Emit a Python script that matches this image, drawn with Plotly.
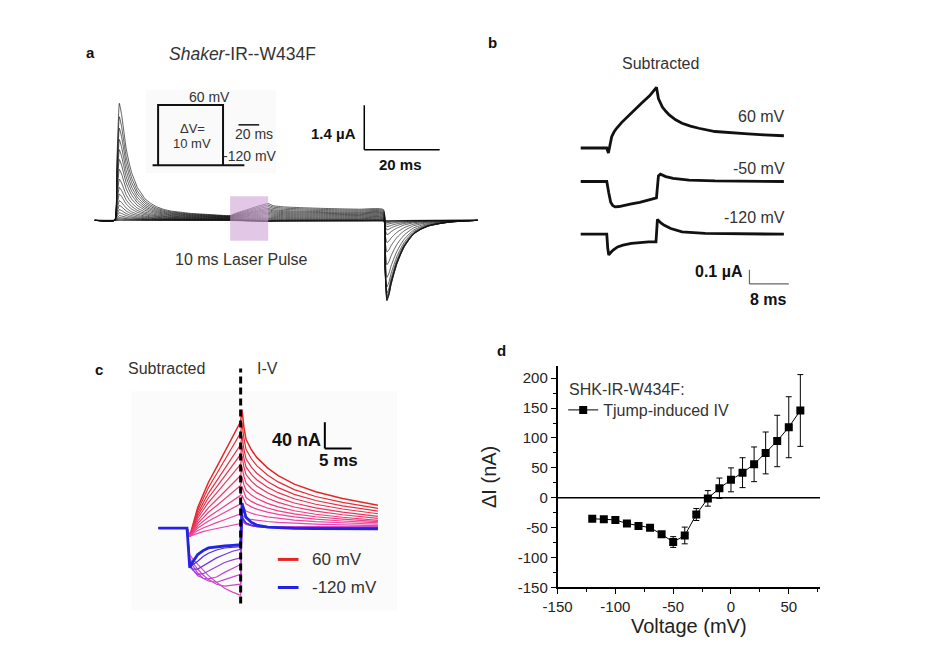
import plotly.graph_objects as go

W, H = 934, 650
FONT = "Liberation Sans, Arial, sans-serif"

# ======================= DATA =======================
# ---- panel d : T-jump induced I-V ----
voltage_mv = [-120, -110, -100, -90, -80, -70, -60, -50, -40, -30,
              -20, -10, 0, 10, 20, 30, 40, 50, 60]
delta_i_na = [-35, -36, -37, -43, -47, -50, -61, -74, -63, -28,
              -1, 16, 30, 42, 56, 75, 95, 118, 146]
delta_i_err = [3, 3, 3, 3, 3, 3, 4, 9, 14, 10,
               13, 17, 20, 25, 29, 35, 43, 51, 60]
d_xticks = [-150, -100, -50, 0, 50]
d_xticklabels = ["-150", "-100", "-50", "0", "50"]
d_yticks = [-150, -100, -50, 0, 50, 100, 150, 200]
d_yticklabels = ["-150", "-100", "-50", "0", "50", "100", "150", "200"]

# ---- panel a : raw current family (uA), -120 ... 60 mV ----
a_peak = [0.0, 0.02, 0.05, 0.09, 0.15, 0.24, 0.34, 0.47, 0.62, 0.83,
          1.04, 1.30, 1.61, 1.92, 2.23, 2.55, 2.91, 3.27, 3.69]
a_plateau = [0.0, 0.0, 0.01, 0.01, 0.02, 0.02, 0.03, 0.04, 0.05, 0.06,
             0.07, 0.08, 0.09, 0.10, 0.11, 0.12, 0.13, 0.14, 0.15]
a_laser_rise = [-0.03, -0.03, -0.04, -0.04, -0.03, -0.02, 0.0, 0.02, 0.05, 0.08,
                0.11, 0.14, 0.17, 0.20, 0.23, 0.26, 0.30, 0.34, 0.38]
a_tail = [0.01, 0.02, 0.04, 0.07, 0.12, 0.20, 0.30, 0.45, 0.70, 1.00,
          1.40, 1.80, 2.10, 2.30, 2.40, 2.45, 2.50, 2.52, 2.54]
a_decay_t = [1.8, 2.4, 3, 3.8, 4.5, 5.3, 6, 7, 8, 9.5, 11, 13, 15, 17.5, 20, 25, 30.6]
a_decay_frac = [0.9, 0.75, 0.6, 0.47, 0.38, 0.31, 0.25, 0.2, 0.15, 0.11, 0.08, 0.055,
                0.04, 0.03, 0.02, 0.01, 0.0]
a_laser_t = [32, 34, 36, 38, 40.7, 42, 45, 50, 55, 60, 65, 71.3]
a_laser_frac = [0.18, 0.38, 0.58, 0.78, 1.0, 0.82, 0.72, 0.65, 0.6, 0.56, 0.53, 0.5]
a_tail_t = [0.4, 0.9, 1.5, 2, 2.8, 3.5, 4.5, 5.5, 6.8, 8, 10, 12, 15, 18, 25]
a_tail_frac = [-0.6, -1, -0.92, -0.8, -0.66, -0.55, -0.43, -0.33, -0.24, -0.17,
               -0.11, -0.07, -0.04, -0.02, 0]

# ---- panel b : subtracted traces (uA) ----
b_t_60 = [-5.3, 0, 0.33, 0.7, 1.0, 1.5, 2.0, 3, 4, 5.3, 7, 8.7, 10.1,
          10.5, 11.3, 12, 12.7, 14, 15.3, 17, 18.7, 22, 25, 28.7, 32, 36]
b_i_60 = [0, 0, -0.035, 0.03, 0.08, 0.115, 0.14, 0.18, 0.215, 0.26, 0.315, 0.37, 0.43,
          0.35, 0.29, 0.26, 0.234, 0.2, 0.175, 0.155, 0.14, 0.117, 0.107, 0.10, 0.093, 0.087]
b_t_m50 = [-5.3, 0, 0.4, 0.8, 1.2, 1.7, 2.5, 3.3, 5, 6.7, 8.5, 10.1,
           10.5, 10.9, 12, 13.5, 16.7, 22, 36]
b_i_m50 = [0, 0, -0.08, -0.147, -0.17, -0.18, -0.177, -0.17, -0.158, -0.147, -0.13, -0.116,
           0.04, 0.052, 0.035, 0.022, 0.01, 0.004, 0]
b_t_m120 = [-5.3, 0, 0.2, 0.4, 0.8, 1.3, 2.2, 3.3, 5, 6.7, 8.5, 10,
            10.3, 11, 11.7, 13, 15.3, 20, 36]
b_i_m120 = [0, 0, -0.1, -0.147, -0.13, -0.112, -0.09, -0.077, -0.065, -0.058, -0.055, -0.054,
            0.105, 0.08, 0.063, 0.04, 0.016, 0.005, 0]
b_offsets = [0.61, 0.373, 0.0]

# ---- panel c : subtracted family (nA) ----
c_ramp_t = [0, 0.5, 1, 2, 3, 4, 5.5, 7, 8.5, 10]
c_pos_end = [162, 145, 127, 112, 97, 80, 65, 50, 37, 22, 7]       # 60 ... -40 mV
c_pos_peak = [180, 160, 141, 125, 110, 93, 78, 63, 50, 35, 20]
c_pos_tail = [35, 30, 26, 22, 18, 15, 12, 10, 8, 6, 4]
c_pos_dip = -12
c_pos_ramp_frac = [0, 0.08, 0.25, 0.36, 0.47, 0.6, 0.73, 0.87, 1.0]
c_neg_ramp = [                                                     # -50 ... -120 mV
    [0, -40, -46, -55, -63, -72, -82, -91, -97, -102],
    [0, -45, -52, -62, -71, -78, -85, -88, -87, -85],
    [0, -48, -56, -68, -76, -80, -82, -78, -74, -70],
    [0, -52, -62, -72, -76, -77, -74, -67, -61, -55],
    [0, -55, -63, -70, -69, -65, -59, -52, -48, -45],
    [0, -57, -62, -62, -57, -52, -45, -40, -35, -32],
    [0, -58, -56, -50, -43, -38, -33, -30, -29, -28],
    [0, -60, -52, -40, -34, -30, -28, -27, -26, -25],
]
c_neg_peak = [10, 12, 14, 15, 16, 17, 18, 38]
c_neg_tail = [2, 2, 1, 1, 0, 0, 0, -1]
c_decay_t = [10.25, 10.6, 11, 12, 13, 15, 17, 20, 24, 29, 35.6]
c_pos_decay_frac = [1, 0.82, 0.69, 0.58, 0.5, 0.39, 0.31, 0.22, 0.14, 0.07, 0]
c_neg_decay_frac = [1, 0.7, 0.45, 0.25, 0.15, 0.07, 0.04, 0.02, 0.01, 0.0, 0]


# ======================= HELPERS =======================
def pxx(x):
    return x / W


def pxy(y):
    return 1 - y / H


def axes_for(box, x0px, xs, y0px, ys):
    """box = (left, top, right, bottom) in pixels; origin pixel + pixels per unit."""
    l, t, r, b = box
    return dict(domain=[l / W, r / W], range=[(l - x0px) / xs, (r - x0px) / xs]), \
        dict(domain=[1 - b / H, 1 - t / H], range=[(y0px - b) / ys, (y0px - t) / ys])


def lerp_color(k, n):
    stops = [(0.0, (228, 40, 40)), (0.5, (238, 70, 165)),
             (0.78, (190, 70, 222)), (1.0, (35, 35, 225))]
    f = k / (n - 1)
    for (f0, c0), (f1, c1) in zip(stops[:-1], stops[1:]):
        if f0 <= f <= f1:
            u = (f - f0) / (f1 - f0)
            c = [round(a + (b - a) * u) for a, b in zip(c0, c1)]
            return "rgb(%d,%d,%d)" % tuple(c)
    return "rgb(35,35,225)"


fig = go.Figure()
hidden = dict(visible=False, fixedrange=True, showgrid=False, zeroline=False)

# ======================= PANEL A =======================
xa, ya = axes_for((60, 40, 470, 320), 93.3, 3.83, 215, 32.1)
for A, L, R, B in zip(a_peak, a_plateau, a_laser_rise, a_tail):
    t = [-5.3, 0, 0.5, 1.2] + a_decay_t + a_laser_t + [71.3 + d for d in a_tail_t] + [96.3]
    y = [0, 0, 0.45 * A, A] + [L + (A - L) * f for f in a_decay_frac] \
        + [L + R * f for f in a_laser_frac] + [B * f for f in a_tail_frac] + [0]
    fig.add_trace(go.Scatter(x=t, y=y, mode="lines", xaxis="x2", yaxis="y2",
                             line=dict(color="rgba(20,20,20,0.85)", width=0.8, shape="spline",
                                       smoothing=0.4),
                             showlegend=False, hoverinfo="skip"))

# ======================= PANEL B =======================
xb, yb = axes_for((470, 20, 800, 310), 593.3, 5.0, 229, 143)
for tt, ii, off in zip([b_t_60, b_t_m50, b_t_m120], [b_i_60, b_i_m50, b_i_m120], b_offsets):
    fig.add_trace(go.Scatter(x=tt, y=[v + off for v in ii], mode="lines",
                             xaxis="x3", yaxis="y3",
                             line=dict(color="#111", width=2.8),
                             showlegend=False, hoverinfo="skip"))

# ======================= PANEL C =======================
xc, yc = axes_for((60, 340, 400, 640), 166.7, 5.45, 526.7, 0.667)
n_c = len(c_pos_end) + len(c_neg_ramp)
c_traces = []
for k, (E, P, S) in enumerate(zip(c_pos_end, c_pos_peak, c_pos_tail)):
    ramp = [0] + [c_pos_dip * (1 - f) + E * f for f in c_pos_ramp_frac]
    dec = [S + (P - S) * f for f in c_pos_decay_frac]
    c_traces.append((k, ramp, dec))
for j, (ramp, P, S) in enumerate(zip(c_neg_ramp, c_neg_peak, c_neg_tail)):
    dec = [S + (P - S) * f for f in c_neg_decay_frac]
    c_traces.append((len(c_pos_end) + j, ramp, dec))
for k, ramp, dec in c_traces:
    t = [-5.3] + c_ramp_t + c_decay_t
    y = [0] + ramp + dec
    width = 1.2
    if k == 0:
        width = 1.5
    if k == n_c - 1:
        width = 2.8
    fig.add_trace(go.Scatter(x=t, y=y, mode="lines", xaxis="x4", yaxis="y4",
                             line=dict(color=lerp_color(k, n_c), width=width),
                             showlegend=False, hoverinfo="skip"))

# ======================= PANEL D =======================
fig.add_trace(go.Scatter(
    x=voltage_mv, y=delta_i_na, mode="lines+markers", name="Tjump-induced IV",
    xaxis="x", yaxis="y",
    line=dict(color="black", width=1),
    marker=dict(symbol="square", size=8, color="black"),
    error_y=dict(type="data", array=delta_i_err, color="black", thickness=1, width=3),
    showlegend=True))

# ======================= SHAPES =======================
shapes = []
# panel a: laser pulse
shapes.append(dict(type="rect", xref="x2", yref="y2", x0=30.6, x1=40.7, y0=-0.645, y1=0.757,
                   fillcolor="#cfa3d6", opacity=0.6, line=dict(width=0), layer="above"))
# panel a: scale bars 20 ms / 1.4 uA
shapes.append(dict(type="line", xref="x2", yref="y2", x0=66.2, x1=66.2, y0=2.23, y1=2.23 + 1.4,
                   line=dict(color="black", width=1.5)))
shapes.append(dict(type="line", xref="x2", yref="y2", x0=66.2, x1=66.2 + 20, y0=2.23, y1=2.23,
                   line=dict(color="black", width=1.5)))
# panel a: inset protocol
shapes.append(dict(type="rect", xref="paper", yref="paper", x0=pxx(125), x1=pxx(257),
                   y0=pxy(167), y1=pxy(83), fillcolor="#fafafa", line=dict(width=0), layer="below"))
shapes.append(dict(type="path", xref="paper", yref="paper",
                   path="M %f,%f L %f,%f L %f,%f L %f,%f" % (
                       pxx(137.3), pxy(159.3), pxx(137.3), pxy(98.3),
                       pxx(203.3), pxy(98.3), pxx(203.3), pxy(159.3)),
                   line=dict(color="#111", width=2)))
shapes.append(dict(type="line", xref="paper", yref="paper", x0=pxx(131.7), x1=pxx(225),
                   y0=pxy(159.3), y1=pxy(159.3), line=dict(color="#111", width=2)))
shapes.append(dict(type="line", xref="paper", yref="paper", x0=pxx(219), x1=pxx(240),
                   y0=pxy(118.3), y1=pxy(118.3), line=dict(color="#111", width=1.5)))
# panel b: scale bars 8 ms / 0.1 uA
shapes.append(dict(type="line", xref="x3", yref="y3", x0=29, x1=29, y0=-0.352, y1=-0.352 + 0.1,
                   line=dict(color="#666", width=1.2)))
shapes.append(dict(type="line", xref="x3", yref="y3", x0=29, x1=29 + 8, y0=-0.352, y1=-0.352,
                   line=dict(color="#666", width=1.2)))
# panel c: background, dashed line, scale bar, legend
shapes.append(dict(type="rect", xref="paper", yref="paper", x0=pxx(110), x1=pxx(380),
                   y0=pxy(610), y1=pxy(388), fillcolor="#fbfbfb", line=dict(width=0), layer="below"))
shapes.append(dict(type="line", xref="x4", yref="paper", x0=10, x1=10, y0=pxy(603), y1=pxy(365),
                   line=dict(color="black", width=3, dash="7px,4px")))
shapes.append(dict(type="line", xref="x4", yref="y4", x0=25.7, x1=25.7, y0=121, y1=161,
                   line=dict(color="black", width=2)))
shapes.append(dict(type="line", xref="x4", yref="y4", x0=25.7, x1=30.7, y0=121, y1=121,
                   line=dict(color="black", width=2)))
shapes.append(dict(type="line", xref="paper", yref="paper", x0=pxx(259), x1=pxx(280),
                   y0=pxy(558.3), y1=pxy(558.3), line=dict(color="rgb(228,40,40)", width=3)))
shapes.append(dict(type="line", xref="paper", yref="paper", x0=pxx(259), x1=pxx(280),
                   y0=pxy(586.7), y1=pxy(586.7), line=dict(color="rgb(35,35,225)", width=3)))
# panel d: zero line
shapes.append(dict(type="line", xref="x", yref="y", x0=-150, x1=77, y0=0, y1=0,
                   line=dict(color="black", width=1.5)))

# ======================= TEXT =======================
anns = []


def txt(s, x, y, size=13, color="#333", xanchor="center", bold=False):
    if bold:
        s = "<b>%s</b>" % s
    anns.append(dict(text=s, x=pxx(x), y=pxy(y), xref="paper", yref="paper",
                     xanchor=xanchor, yanchor="middle", showarrow=False,
                     font=dict(family=FONT, size=size, color=color)))


txt("a", 69, 45, 15, "#111", bold=True)
txt("b", 477, 35, 15, "#111", bold=True)
txt("c", 77, 366, 15, "#111", bold=True)
txt("d", 486, 347, 15, "#111", bold=True)

txt("<i>Shaker</i>-IR--W434F", 223, 47, 17.5)
txt("60 mV", 190, 90, 14)
txt("\u0394V=", 172, 122, 13)
txt("10 mV", 172, 137, 13)
txt("20 ms", 235, 128, 14)
txt("-120 mV", 231, 150, 14)
txt("1.4 \u00b5A", 340, 127, 15, "#111", xanchor="right", bold=True)
txt("20 ms", 384, 158, 15, "#111", bold=True)
txt("10 ms Laser Pulse", 222, 255, 16)

txt("Subtracted", 648, 56, 16)
txt("60 mV", 776, 110, 16, xanchor="right")
txt("-50 mV", 776, 162, 16, xanchor="right")
txt("-120 mV", 776, 212, 16, xanchor="right")
txt("0.1 \u00b5A", 734, 267, 16, "#111", xanchor="right", bold=True)
txt("8 ms", 758, 295, 16, "#111", bold=True)

txt("Subtracted", 146, 365, 16)
txt("I-V", 236, 365, 16, xanchor="left")
txt("40 nA", 305, 437, 18, "#111", xanchor="right", bold=True)
txt("5 ms", 321, 458, 17, "#111", bold=True)
txt("60 mV", 292, 558, 17, xanchor="left")
txt("-120 mV", 292, 587, 17, xanchor="left")

txt("SHK-IR-W434F:", 553, 386, 16, xanchor="left")

# ======================= LAYOUT =======================
xd = dict(domain=[543.3 / W, 810 / W], range=[-150, 77], anchor="y",
          tickmode="array", tickvals=d_xticks, ticktext=d_xticklabels,
          ticks="outside", ticklen=5, tickwidth=1.2,
          tickcolor="black", showline=True, linecolor="black", linewidth=1.5,
          showgrid=False, zeroline=False,
          minor=dict(dtick=25, tick0=-150, ticks="outside", ticklen=3, tickcolor="black",
                     showgrid=False),
          tickfont=dict(family=FONT, size=15, color="#222"),
          title=dict(text="Voltage (mV)", standoff=4,
                     font=dict(family=FONT, size=20, color="#222")),
          fixedrange=True)
yd = dict(domain=[1 - 586.7 / H, 1 - 362.7 / H], range=[-150, 220], anchor="x",
          tickmode="array", tickvals=d_yticks, ticktext=d_yticklabels,
          ticks="outside", ticklen=5, tickwidth=1.2,
          tickcolor="black", showline=True, linecolor="black", linewidth=1.5,
          showgrid=False, zeroline=False,
          minor=dict(dtick=25, tick0=0, ticks="outside", ticklen=3, tickcolor="black",
                     showgrid=False),
          tickfont=dict(family=FONT, size=15, color="#222"),
          title=dict(text="\u0394I (nA)", standoff=16,
                     font=dict(family=FONT, size=20, color="#222")),
          fixedrange=True)

fig.update_layout(
    width=W, height=H, margin=dict(l=0, r=0, t=0, b=0),
    paper_bgcolor="white", plot_bgcolor="rgba(0,0,0,0)",
    font=dict(family=FONT, color="#333"),
    xaxis=xd, yaxis=yd,
    xaxis2=dict(xa, anchor="y2", **hidden), yaxis2=dict(ya, anchor="x2", **hidden),
    xaxis3=dict(xb, anchor="y3", **hidden), yaxis3=dict(yb, anchor="x3", **hidden),
    xaxis4=dict(xc, anchor="y4", **hidden), yaxis4=dict(yc, anchor="x4", **hidden),
    shapes=shapes, annotations=anns,
    showlegend=True,
    legend=dict(x=pxx(549), y=pxy(407), xanchor="left", yanchor="middle",
                bgcolor="rgba(0,0,0,0)", itemwidth=30, tracegroupgap=0,
                font=dict(family=FONT, size=16, color="#333")),
)

fig.write_html("out.html")
